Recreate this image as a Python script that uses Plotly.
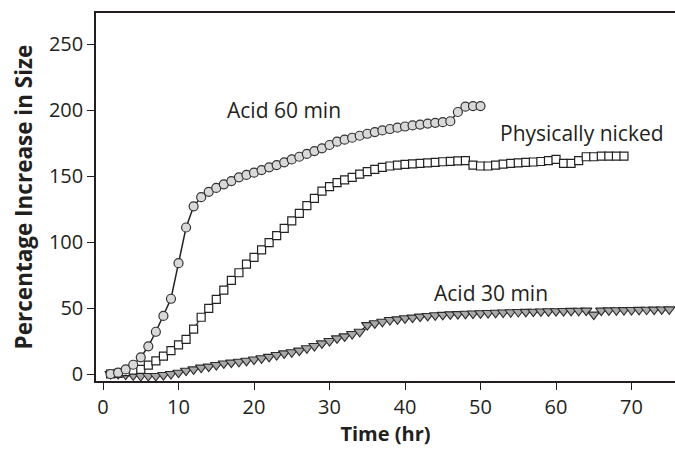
import plotly.graph_objects as go

# Acid 60 min (circles)
t60 = list(range(1, 51))
v60 = [0, 1, 3.5, 7, 12.6, 21, 32, 44, 57, 84,
       111, 127, 134, 138, 141, 143.7, 146.2, 149, 150.8, 152.5,
       154.5, 156.6, 158.3, 160.4, 162.6, 164.6, 166.7, 168.9, 171, 173.5,
       176, 177.5, 179, 180.5, 182, 183.3, 184.5, 185.6, 186.6, 187.5,
       188.3, 189, 189.7, 190.3, 190.8, 191.5, 198.5, 202.5, 203, 203]

# Physically nicked (squares)
tpn = list(range(1, 70))
vpn = [0, 0.5, 1.8, 3, 3.5, 6.8, 10, 13.6, 17.7, 22,
       26.3, 34, 43, 49.7, 56.6, 63.6, 71, 76.7, 83.3, 88.4,
       94, 99.5, 104.8, 110.3, 116, 121.7, 127.5, 133, 138.6, 141.9,
       145, 147, 149, 151.5, 153.3, 155, 156.6, 157.6, 158.3, 158.8,
       159.2, 159.6, 160, 160.4, 160.8, 161.1, 161.4, 161.6, 158.3, 157.6,
       157.6, 158.3, 159, 159.6, 160, 160.4, 160.6, 161, 161.6, 162.6,
       159.6, 159.6, 161.6, 164.6, 164.6, 165, 165, 165, 165]

# Acid 30 min (triangles)
t30 = list(range(1, 76))
v30 = [0, 0, -0.5, -1, -1.5, -1.5, -1.5, -0.8, 0, 1,
       2.5, 3.5, 4.8, 5.6, 6.8, 8, 8.6, 9.3, 10, 11,
       11.9, 13, 14.4, 15.6, 16.5, 17.7, 19.5, 21.2, 23.2, 25,
       27, 28.5, 30.3, 32, 37, 38.4, 39.6, 40.9, 41.4, 42.2,
       42.7, 43.5, 44, 44.5, 44.8, 45.2, 45.4, 45.6, 45.8, 46,
       46.2, 46.4, 46.6, 46.8, 47, 47.1, 47.2, 47.4, 47.5, 47.6,
       47.7, 47.8, 47.9, 48, 45, 48, 48.2, 48.3, 48.4, 48.5,
       48.6, 48.7, 48.8, 48.9, 49]

labels = ["Acid 60 min", "Physically nicked", "Acid 30 min"]
label_x = [24.0, 63.4, 51.4]
label_y = [200, 182.5, 61.5]

x_ticks = [0, 10, 20, 30, 40, 50, 60, 70]
y_ticks = [0, 50, 100, 150, 200, 250]

FONT = "Open Sans, Lato, Noto Sans, sans-serif"
INK = "#231f20"

fig = go.Figure()
fig.add_trace(go.Scatter(
    x=t30, y=v30, mode="lines+markers", name="Acid 30 min",
    line=dict(color="#222222", width=1.2),
    marker=dict(symbol="triangle-down", size=10, color="#a9a9a9",
                line=dict(color="#2a2a2a", width=1.1))))
fig.add_trace(go.Scatter(
    x=tpn, y=vpn, mode="lines+markers", name="Physically nicked",
    line=dict(color="#222222", width=1.2),
    marker=dict(symbol="square", size=8, color="white",
                line=dict(color="#222222", width=1.2))))
fig.add_trace(go.Scatter(
    x=t60, y=v60, mode="lines+markers", name="Acid 60 min",
    line=dict(color="#222222", width=1.5),
    marker=dict(symbol="circle", size=9, color="#d9d9d9",
                line=dict(color="#333333", width=1.2))))

for txt, lx, ly in zip(labels, label_x, label_y):
    fig.add_annotation(x=lx, y=ly, text=txt, showarrow=False,
                       font=dict(family=FONT, size=21, color=INK))

fig.update_layout(
    width=675, height=451,
    margin=dict(l=96, r=0, t=13, b=70),
    paper_bgcolor="white", plot_bgcolor="white",
    showlegend=False,
    font=dict(family=FONT, color=INK),
)
fig.update_xaxes(
    range=[-0.93, 75.76], tickvals=x_ticks, ticktext=[str(v) for v in x_ticks],
    showgrid=False, zeroline=False,
    showline=True, linecolor=INK, linewidth=1.5, mirror=True,
    ticks="outside", ticklen=7, tickwidth=1.2, tickcolor=INK,
    tickfont=dict(family=FONT, size=20, color=INK),
    title=dict(text="<b>Time (hr)</b>", font=dict(family=FONT, size=20, color=INK),
               standoff=4),
)
fig.update_yaxes(
    range=[-5.3, 273.5], tickvals=y_ticks, ticktext=[str(v) for v in y_ticks],
    showgrid=False, zeroline=False,
    showline=True, linecolor=INK, linewidth=1.5, mirror=False,
    ticks="outside", ticklen=7, tickwidth=1.2, tickcolor=INK,
    tickfont=dict(family=FONT, size=20, color=INK),
    title=dict(text="<b>Percentage Increase in Size</b>",
               font=dict(family=FONT, size=22.5, color=INK), standoff=10),
)

fig.write_html("out.html",
               config={"displayModeBar": False},
               post_script="document.body.style.margin='0';document.body.style.overflow='hidden';")
